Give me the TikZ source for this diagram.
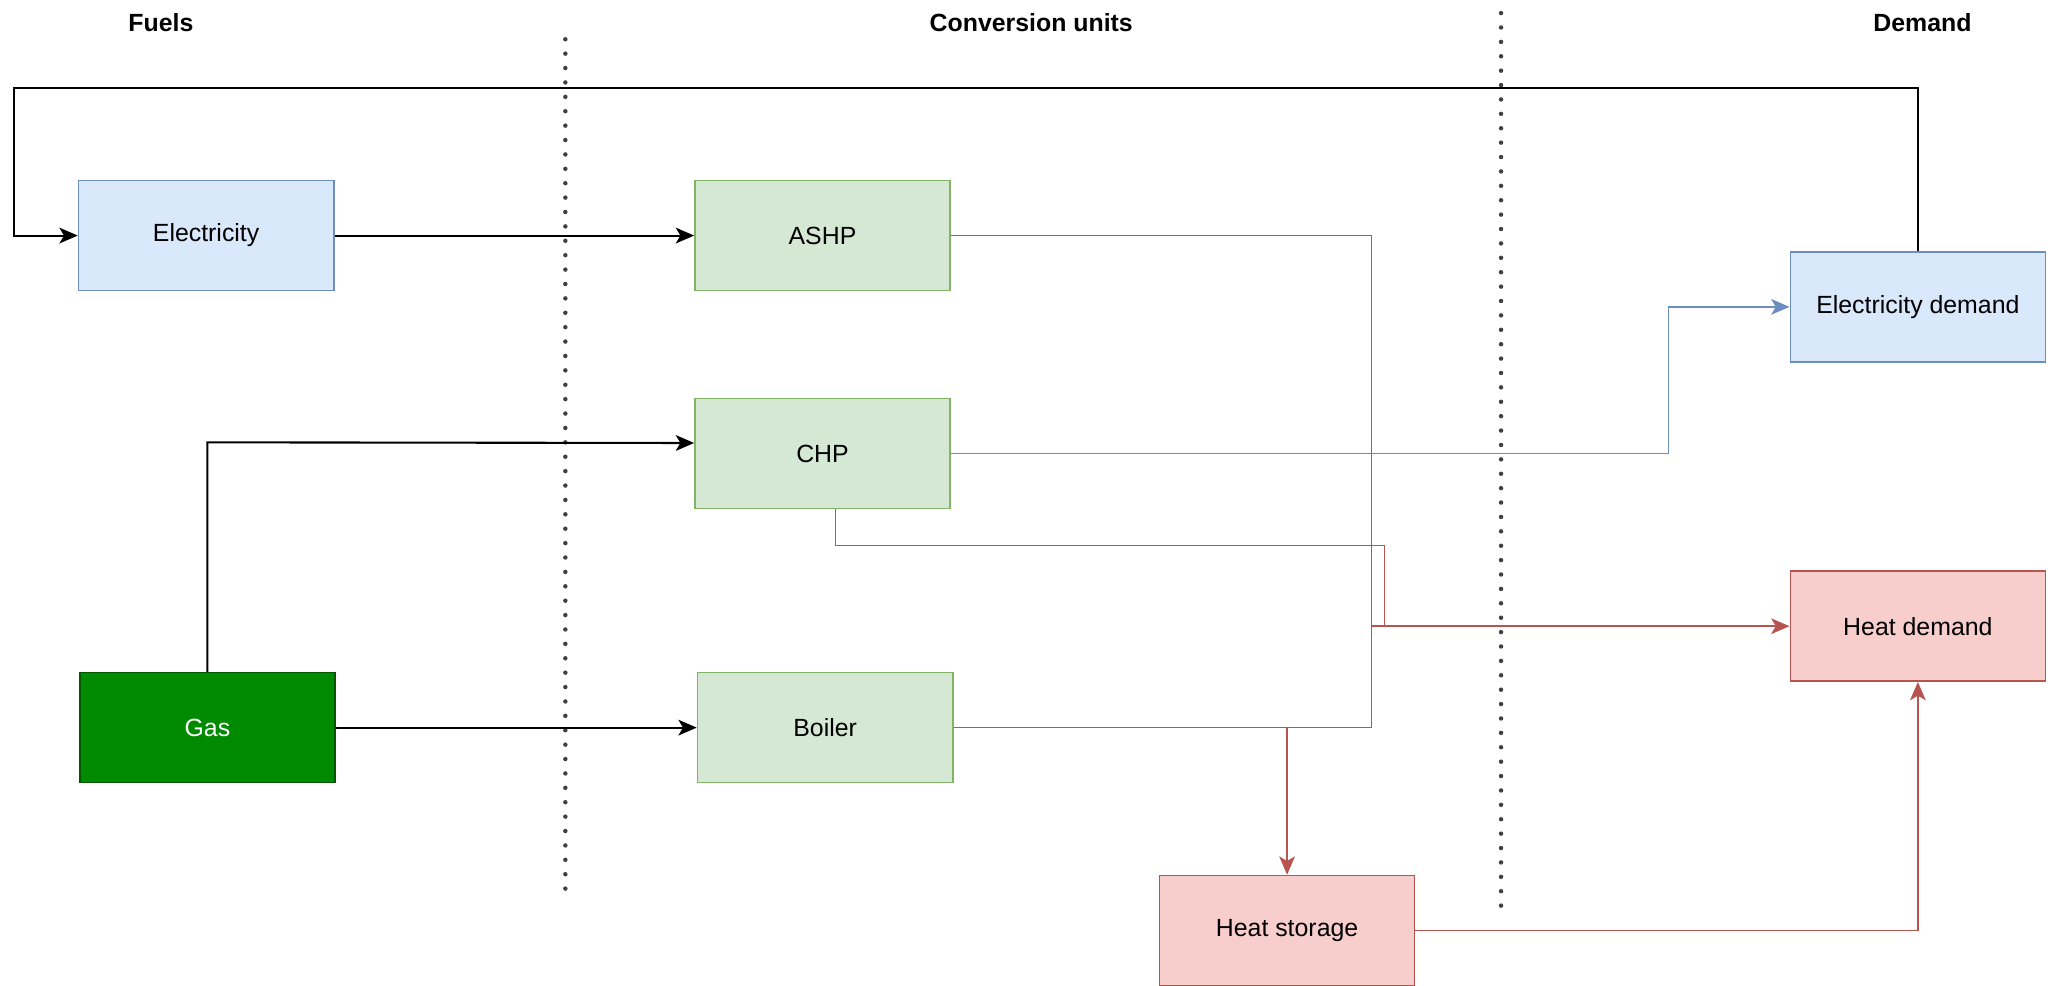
\documentclass[tikz,border=0pt]{standalone}
\usepackage{fontspec}
\setmainfont{Liberation Sans}
\usetikzlibrary{arrows.meta}
\definecolor{eblue}{HTML}{DAE8FC}
\definecolor{eblueline}{HTML}{6C8EBF}
\definecolor{cgreen}{HTML}{D5E8D4}
\definecolor{cgreenline}{HTML}{82B366}
\definecolor{hred}{HTML}{F8CECC}
\definecolor{hredline}{HTML}{B85450}
\definecolor{gasgreen}{HTML}{008A00}
\definecolor{gasline}{HTML}{005700}

\begin{document}
\begin{tikzpicture}[x=1pt,y=1pt,
  font=\fontsize{19}{23}\selectfont,
  box/.style={rectangle, minimum width=195pt, minimum height=84pt, inner sep=0pt, line width=1.2pt},
  elecbox/.style={box, fill=eblue, draw=eblueline},
  unitbox/.style={box, fill=cgreen, draw=cgreenline},
  heatbox/.style={box, fill=hred, draw=hredline},
  gasbox/.style={box, fill=gasgreen, draw=gasline, text=white},
  head/.style={font=\fontsize{19}{23}\selectfont\bfseries},
  divider/.style={draw=black!75, line width=3.4pt, line cap=round, dash pattern=on 0pt off 11pt},
  flowtip/.style={-{Stealth[length=14pt,width=12pt,inset=3.5pt]}},
  fuelflow/.style={draw=black, line width=1.6pt},
  heatflow/.style={draw=hredline, line width=1.1pt},
  powerflow/.style={draw=eblueline, line width=1.1pt}
]
\useasboundingbox (0,0) rectangle (1568,-753);

% column headings
\node[head] (hfuel) at (123,-17) {Fuels};
\node[head] (hconv) at (788,-17) {Conversion units};
\node[head] (hdemand) at (1469,-17) {Demand};

% column dividers
\draw[divider] (432,-30) -- (432,-685);
\draw[divider] (1147,-10) -- (1147,-697);

% fuels
\node[elecbox] (elec) at (157.5,-180) {Electricity};
\node[gasbox] (gas) at (158.5,-556) {Gas};

% conversion units
\node[unitbox] (ashp) at (628.5,-180) {ASHP};
\node[unitbox] (chp) at (628.5,-346.5) {CHP};
\node[unitbox] (boiler) at (630.5,-556) {Boiler};
\node[heatbox] (store) at (983.5,-711) {Heat storage};

% demand
\node[elecbox] (edem) at (1465.5,-234.5) {Electricity demand};
\node[heatbox] (hdem) at (1465.5,-478.5) {Heat demand};

% bend points
\coordinate (loopL) at (11,-67);
\coordinate (loopR) at (1466,-67);
\coordinate (gasup) at (158,-338);
\coordinate (busA) at (1048,-478.5);
\coordinate (busB) at (1058,-417);
\coordinate (ebend) at (1275,0);

% electricity demand fed back to the electricity supply
\draw[fuelflow, flowtip] (edem.north) -- (edem.north |- loopR) -- (loopL) -- (loopL |- elec.west) -- (elec.west);

% fuel inputs
\draw[fuelflow, flowtip] (elec.east) -- (ashp.west);
\draw[fuelflow, flowtip] (gas.north) -- (gas.north |- gasup) -- ([yshift=8pt]chp.west);
\draw[fuelflow, flowtip] (gas.east) -- (boiler.west);

% heat outputs
\draw[heatflow] (ashp.east) -| (busA);
\draw[heatflow] (boiler.east) -| (busA);
\draw[heatflow] ([xshift=10pt]chp.south) |- (busB) -- (busB |- hdem.west);
\draw[heatflow, flowtip] (busA) -- (hdem.west);
\draw[heatflow, flowtip] (store.north |- boiler.east) -- (store.north);
\draw[heatflow, flowtip] (store.east) -| (hdem.south);

% electricity output of the CHP
\draw[powerflow, flowtip] (chp.east) -| (ebend |- edem.west) -- (edem.west);
\end{tikzpicture}
\end{document}
